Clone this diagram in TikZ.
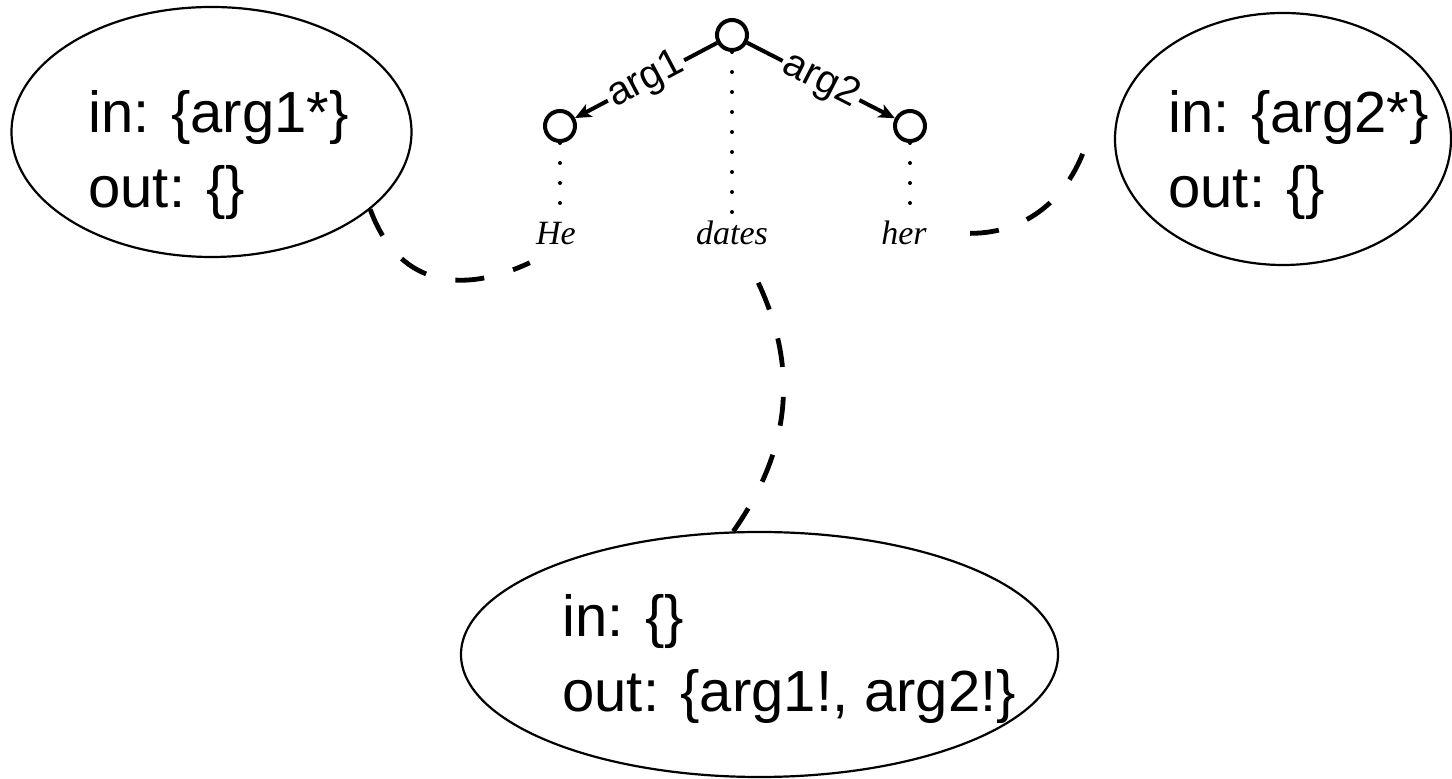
\documentclass[tikz,border=0pt]{standalone}
\usepackage{fontspec}
\setmainfont{Liberation Serif}
\setsansfont{Liberation Sans}
\usetikzlibrary{shapes.geometric,arrows.meta}

\tikzset{
    kreis/.style={circle, draw, line width=2pt, minimum size=15pt, inner sep=0pt},
    wort/.style={font=\fontsize{17}{20}\selectfont\itshape, inner sep=0pt, anchor=base},
    menge/.style={ellipse, draw, line width=1.1pt, inner sep=0pt},
    inhalt/.style={font=\fontsize{29}{37.5}\selectfont\sffamily, align=left, inner sep=0pt, anchor=base west},
    kante/.style={line width=2pt, -{Stealth[length=8pt,width=7pt,inset=2pt]}},
    rolle/.style={font=\fontsize{20}{22}\selectfont\sffamily, fill=white, inner sep=1.5pt, sloped},
    punkte/.style={line width=2pt, line cap=round, dash pattern=on 0pt off 10pt},
    bogen/.style={line width=2.4pt, dash pattern=on 14.5pt off 15pt}
}

\begin{document}
\begin{tikzpicture}[x=0.5pt, y=0.5pt]
    \useasboundingbox (0,0) rectangle (1452,-779);
    \path node[kreis] (D) at (732,-35) {}
        node[kreis] (A1) at (560,-126) {}
        node[kreis] (A2) at (910,-126) {}
        node[wort] (wA1) at (556,-245) {He}
        node[wort] (wD) at (732,-245) {dates}
        node[wort] (wA2) at (904,-245) {her}
        node[menge, minimum width=200pt, minimum height=125pt] (E1) at (211.5,-132) {}
        node[menge, minimum width=168pt, minimum height=126pt] (E2) at (1283,-139) {}
        node[menge, minimum width=298.5pt, minimum height=122.5pt] (E0) at (759.5,-654.5) {}
        node[inhalt] (T1) at (88,-207.5) {in: \{arg1*\}\\out: \{\}}
        node[inhalt] (T2) at (1168,-207.5) {in: \{arg2*\}\\out: \{\}}
        node[inhalt] (T0) at (562,-712) {in: \{\}\\out: \{arg1!, arg2!\}};
    \coordinate (fA1) at ([shift={(-3pt,-8.5pt)}]wA1.south west);
    \coordinate (fA2) at ([xshift=21.5pt]wA2.east);
    \coordinate (fD) at ([shift={(-5pt,-18.5pt)}]wD.south east);
    \coordinate (fE2) at ([shift={(-12.5pt,2pt)}]E2.west);
    \draw[kante] (D) -- node[rolle] {arg1} (A1);
    \draw[kante] (D) -- node[rolle] {arg2} (A2);
    \draw[punkte] (A1) -- (A1 |- wA1.north);
    \draw[punkte] (D) -- (D |- wD.north);
    \draw[punkte] (A2) -- (A2 |- wA2.north);
    \draw[bogen] (E1.-26) to[out=-70, in=205, looseness=1.2] (fA1);
    \draw[bogen] (fA2) to[out=0, in=-105] (fE2);
    \draw[bogen] (fD) to[out=-65, in=55] (E0.102);
\end{tikzpicture}
\end{document}
